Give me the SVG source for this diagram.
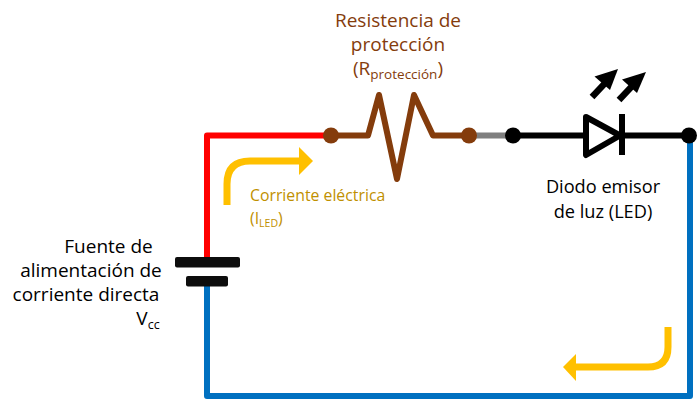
<svg xmlns="http://www.w3.org/2000/svg" width="699" height="400" viewBox="0 0 699 400">
<style>
text{font-family:"Open Sans","Noto Sans",sans-serif;font-size:19px;text-anchor:middle}
.w{fill:none;stroke-width:6;stroke-linejoin:round;stroke-linecap:butt}
.flow{fill:none;stroke:#ffc000;stroke-width:7}
.brown{fill:#843c0c}.blk{fill:#000}
.amber{fill:#bf9000;font-size:15.800px;text-anchor:start}
.bt{fill:#843c0c}
.led{font-size:18.200px}
</style>
<rect width="699" height="400" fill="#fff"/>
<g id="connectors">
<path class="w" stroke="#0070c0" d="M207 285V396H690V136"/>
<path class="w" stroke="#ff0000" d="M207 258V135.500H331"/>
<path class="w" stroke="#843c0c" d="M331 135.500H368L379 95L397 179L414 95L433 135.500H469" stroke-miterlimit="10"/>
<path class="w" stroke="#7f7f7f" d="M469 135.500H513"/>
<path class="w" stroke="#000" d="M513 135.500H584M622 135.500H689"/>
</g>
<g id="battery">
<rect x="175" y="257" width="65" height="10.500" rx="2" fill="#0d0d0d"/>
<rect x="186" y="276" width="42" height="10.500" rx="2" fill="#0d0d0d"/>
<text x="108.500" y="253">Fuente de</text>
<text x="91" y="277">alimentación de</text>
<text x="86" y="301">corriente directa</text>
<text x="148" y="325">V<tspan font-size="12.500" dy="4">cc</tspan></text>
</g>
<g id="node-r-left"><circle class="brown" cx="331" cy="135.500" r="8"/></g>
<g id="resistor">
<text class="bt" x="398" y="27">Resistencia de</text>
<text class="bt" x="398" y="51">protección</text>
<text class="bt" x="398" y="75">(R<tspan font-size="13.500" dy="4">protección</tspan><tspan dy="-4">)</tspan></text>
</g>
<g id="node-r-right"><circle class="brown" cx="469" cy="135.500" r="8"/></g>
<g id="node-led-left"><circle class="blk" cx="513" cy="135.500" r="8"/></g>
<g id="led">
<path d="M586 117L620 135.500L586 155Z" fill="#fff" stroke="#000" stroke-width="6" stroke-linejoin="round"/>
<path d="M622 114V155" stroke="#000" stroke-width="6" fill="none"/>
<path d="M592 97L608 80" stroke="#000" stroke-width="6.500" fill="none"/>
<path d="M618 69L594.500 76.500L610 90Z" class="blk"/>
<path d="M619 100L635 83" stroke="#000" stroke-width="6.500" fill="none"/>
<path d="M646 72L622 79.500L637 93Z" class="blk"/>
<text class="led" x="603" y="193">Diodo emisor</text>
<text class="led" x="603" y="218">de luz (LED)</text>
</g>
<g id="node-led-right"><circle class="blk" cx="689" cy="135.500" r="8"/></g>
<g id="flow-top">
<path class="flow" d="M227 205V184Q227 161 250 161H300"/>
<path d="M299 147L313 161L299 175Z" fill="#ffc000"/>
<text class="amber" x="250" y="201">Corriente eléctrica</text>
<text class="amber" x="250" y="224">(I<tspan font-size="10.500" dy="3">LED</tspan><tspan dy="-3">)</tspan></text>
</g>
<g id="flow-bottom">
<path class="flow" d="M668 327V347Q668 367 648 367H575"/>
<path d="M576 354L563 367L576 381Z" fill="#ffc000"/>
</g>
</svg>
